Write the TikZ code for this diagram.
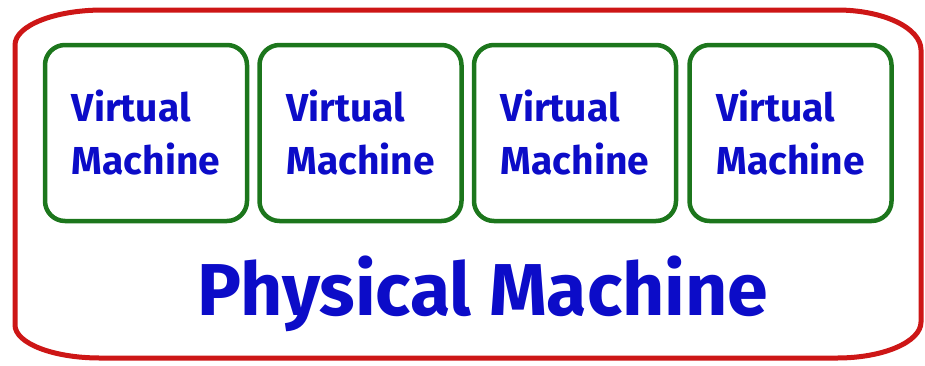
\documentclass[tikz,border=0pt]{standalone}
\usepackage{fontspec}
\setmainfont{Fira Sans}
\usepackage{tikz}
\usetikzlibrary{positioning}

\definecolor{framered}{RGB}{205,22,22}
\definecolor{vmgreen}{RGB}{28,118,28}
\definecolor{textblue}{RGB}{12,12,200}

\tikzset{
	vmbox/.style={draw=vmgreen,line width=4.5pt,rounded corners=20pt,minimum width=202pt,minimum height=176pt,inner sep=0pt,align=left,text=textblue,font=\bfseries\fontsize{39}{53}\selectfont},
	pmlabel/.style={text=textblue,font=\bfseries\fontsize{73.5}{74}\selectfont},
}

\begin{document}
\begin{tikzpicture}[x=1pt,y=-1pt]
		\useasboundingbox (0,0) rectangle (925,365);
		\draw[framered,line width=5pt] (15,45) arc[start angle=180,end angle=270,x radius=88,y radius=35] -- (837,10)
			arc[start angle=270,end angle=360,x radius=84,y radius=40] -- (921,322)
			arc[start angle=0,end angle=90,x radius=84,y radius=36] -- (100,358)
			arc[start angle=90,end angle=180,x radius=85,y radius=33] -- cycle;
		
		\node[vmbox] (vm1) at (146,133) {Virtual\\Machine};
		\node[vmbox,right=8pt of vm1] (vm2) {Virtual\\Machine};
		\node[vmbox,right=8pt of vm2] (vm3) {Virtual\\Machine};
		\node[vmbox,right=9pt of vm3] (vm4) {Virtual\\Machine};
		
		\node[pmlabel,anchor=base] (pm) at (483,315) {Physical Machine};
	\end{tikzpicture}
\end{document}
